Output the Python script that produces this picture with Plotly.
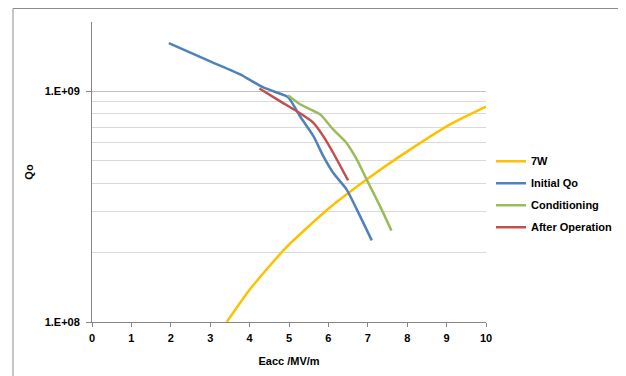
import plotly.graph_objects as go

# ---- data ----
w7_x = [3.42, 4.0, 4.9, 6.0, 6.97, 7.82, 9.09, 10.0]
w7_q = [1.0e8, 1.38e8, 2.08e8, 3.1e8, 4.15e8, 5.24e8, 7.2e8, 8.6e8]

init_x = [1.95, 3.0, 3.76, 4.35, 4.95, 5.03, 5.28, 5.62, 5.87, 6.12, 6.46, 6.72, 7.1]
init_q = [1.62e9, 1.35e9, 1.185e9, 1.04e9, 9.5e8, 9.2e8, 7.8e8, 6.4e8, 5.24e8, 4.44e8, 3.76e8, 3.08e8, 2.26e8]

cond_x = [4.98, 5.28, 5.79, 6.12, 6.46, 6.72, 6.97, 7.31, 7.6]
cond_q = [9.6e8, 8.8e8, 7.95e8, 6.84e8, 5.98e8, 5.07e8, 4.15e8, 3.18e8, 2.49e8]

after_x = [4.25, 4.77, 5.2, 5.62, 5.87, 6.12, 6.5]
after_q = [1.03e9, 9.08e8, 8.2e8, 7.31e8, 6.4e8, 5.42e8, 4.11e8]

series = [
    ("7W", w7_x, w7_q, "#FFC000"),
    ("Initial Qo", init_x, init_q, "#4F81BD"),
    ("Conditioning", cond_x, cond_q, "#9BBB59"),
    ("After Operation", after_x, after_q, "#C0504D"),
]

x_ticks = list(range(0, 11))
y_major = [1e8, 1e9]
y_major_text = ["1.E+08", "1.E+09"]
y_minor = [2e8, 3e8, 4e8, 5e8, 6e8, 7e8, 8e8, 9e8, 2e9]

FONT = "Liberation Sans"
W = 700
FS = 11

fig = go.Figure()
for i, (name, xs, qs, col) in enumerate(series):
    fig.add_trace(go.Scatter(
        x=xs, y=qs, name=name, mode="lines",
        line=dict(color=col, width=2.5, shape="spline", smoothing=0.6),
        legendgroup=f"g{i}",
    ))

# the page body has an 8px margin, so the figure is 8px smaller
fig.update_layout(
    width=618, height=368,
    margin=dict(l=84, r=140, t=14, b=54, autoexpand=False),
    paper_bgcolor="white", plot_bgcolor="white",
    font=dict(family=FONT, size=FS, color="#000000", weight=W),
    showlegend=True,
    legend=dict(
        x=1.0127, xanchor="left", y=0.426, yanchor="middle",
        font=dict(family=FONT, size=FS, color="#000000", weight=W),
        tracegroupgap=3, itemwidth=30, bgcolor="rgba(0,0,0,0)",
    ),
    xaxis=dict(
        range=[0, 10], tickvals=x_ticks, ticks="outside", ticklen=4,
        tickcolor="#868686", showline=True, linecolor="#868686", linewidth=1,
        showgrid=False, zeroline=False, automargin=False,
        ticklabelstandoff=2,
        tickfont=dict(family=FONT, size=FS, weight=W),
        title=dict(text="Eacc /MV/m", standoff=14,
                   font=dict(family=FONT, size=FS, weight=W)),
    ),
    yaxis=dict(
        type="log", range=[8, 9.30103],
        tickvals=y_major, ticktext=y_major_text,
        ticks="outside", ticklen=5, tickcolor="#868686",
        showline=True, linecolor="#868686", linewidth=1,
        showgrid=True, gridcolor="#C0C0C0", gridwidth=1,
        minor=dict(tickvals=y_minor, showgrid=True, gridcolor="#D9D9D9",
                   gridwidth=1, ticks=""),
        zeroline=False, automargin=False,
        ticklabelstandoff=4,
        tickfont=dict(family=FONT, size=FS, weight=W),
        title=dict(text="Qo", standoff=8,
                   font=dict(family=FONT, size=FS, weight=W)),
    ),
)

# outer chart-area border (runs off the right and bottom of the picture)
border_x0 = (13 - 92) / 394
border_y1 = (322.5 - 9) / 300
fig.add_shape(type="line", xref="paper", yref="paper",
              x0=border_x0, x1=2.0, y0=border_y1, y1=border_y1,
              line=dict(color="#8C8C8C", width=1))
fig.add_shape(type="line", xref="paper", yref="paper",
              x0=border_x0, x1=border_x0, y0=border_y1, y1=-1.0,
              line=dict(color="#8C8C8C", width=1))

fig.write_html("out.html")
